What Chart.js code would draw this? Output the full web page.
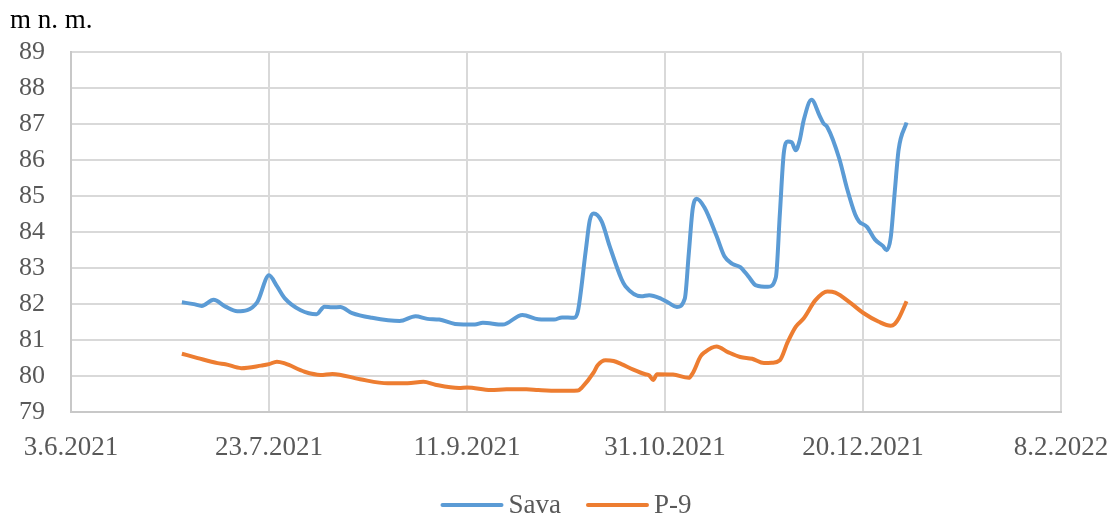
<!DOCTYPE html>
<html>
<head>
<meta charset="utf-8">
<script src="https://cdn.jsdelivr.net/npm/chart.js@4.4.0/dist/chart.umd.min.js"></script>
<style>
  html, body { margin: 0; padding: 0; background: #fff; }
  #wrap { width: 1111px; height: 517px; position: relative; }
</style>
</head>
<body>
<div id="wrap"><canvas id="chart"></canvas></div>
<script>
// x values are days counted from 3.6.2021 (first tick of the axis)
const tickLabels = ['3.6.2021', '23.7.2021', '11.9.2021', '31.10.2021', '20.12.2021', '8.2.2022'];
const seriesNames = ['Sava', 'P-9'];

const savaDays = [
  28, 31, 33, 36, 39, 42, 47, 50, 52, 54, 58, 62, 64, 66, 68, 71, 76, 83, 87, 90,
  93, 97, 102, 104, 109, 114, 118, 122, 124, 127, 128, 130, 131, 132, 134, 136, 139, 140, 144, 146,
  149, 151, 153, 155, 156, 157, 158, 160, 163, 165, 167, 169, 171, 173, 176, 178, 179, 180, 181, 182,
  183, 184, 185, 187, 189, 190, 191, 194, 196, 198, 199, 201, 203, 205, 206, 207, 208, 209, 211,
];
const savaLevels = [
  82.05, 82.0, 81.95, 82.12, 81.93, 81.8, 82.05, 82.8, 82.5, 82.16, 81.83, 81.72, 81.93, 81.91, 81.92, 81.75, 81.62, 81.53, 81.66, 81.59,
  81.57, 81.45, 81.43, 81.48, 81.43, 81.7, 81.58, 81.57, 81.63, 81.62, 81.8, 83.5, 84.33, 84.52, 84.3, 83.62, 82.7, 82.5, 82.22, 82.25,
  82.15, 82.03, 81.92, 82.15, 83.4, 84.65, 84.93, 84.68, 83.9, 83.33, 83.12, 83.03, 82.78, 82.52, 82.48, 82.75, 84.5, 86.2, 86.52, 86.5,
  86.28, 86.55, 87.1, 87.68, 87.25, 87.03, 86.92, 86.05, 85.2, 84.5, 84.3, 84.15, 83.8, 83.62, 83.5, 83.85, 85.1, 86.3, 87.05,
];

const p9Days = [
  28, 32, 37, 39, 43, 48, 50, 52, 54, 59, 63, 66, 73, 80, 85, 89, 92, 98, 100, 106,
  110, 115, 118, 123, 128, 129, 132, 133, 135, 137, 139, 142, 145, 146, 147, 148, 152, 156, 157, 159,
  160, 163, 166, 169, 172, 175, 177, 179, 181, 183, 185, 188, 191, 193, 197, 200, 204, 207, 208, 209, 211,
];
const p9Levels = [
  80.62, 80.5, 80.36, 80.33, 80.22, 80.29, 80.33, 80.4, 80.35, 80.12, 80.03, 80.06, 79.91, 79.8, 79.8, 79.84, 79.76, 79.67, 79.68, 79.61,
  79.63, 79.63, 79.61, 79.59, 79.6, 79.68, 80.1, 80.3, 80.44, 80.42, 80.33, 80.18, 80.05, 80.02, 79.89, 80.05, 80.04, 79.95, 80.08, 80.55,
  80.66, 80.82, 80.66, 80.53, 80.48, 80.36, 80.37, 80.44, 80.95, 81.37, 81.6, 82.11, 82.35, 82.32, 82.02, 81.76, 81.51, 81.4, 81.45, 81.6, 82.08,
];

const FONT = "'Liberation Serif', 'Times New Roman', serif";
const COLORS = ['#5B9BD5', '#ED7D31'];

/** Pairs an x list with a y list into Chart.js points. */
function toPoints(xs, ys) {
  return xs.map((x, i) => ({ x, y: ys[i] }));
}

/** Builds the two line datasets. */
function buildDatasets() {
  const series = [toPoints(savaDays, savaLevels), toPoints(p9Days, p9Levels)];
  return series.map((data, i) => ({
    label: seriesNames[i],
    data,
    borderColor: COLORS[i],
    backgroundColor: COLORS[i],
    borderWidth: 4,
    pointRadius: 0,
    cubicInterpolationMode: 'monotone',
    fill: false,
  }));
}

/**
 * Excel-like legend under the plot: long line swatch, tight gap before the text.
 * Drawn by hand because the built-in legend ties spacing to the font size.
 */
const bottomLegend = {
  id: 'bottomLegend',
  afterDraw(chart) {
    const { ctx, chartArea } = chart;
    const lineLen = 63, gap = 5, itemGap = 25, y = 505;
    ctx.save();
    ctx.font = `27px ${FONT}`;
    const widths = chart.data.datasets.map((ds) => lineLen + gap + ctx.measureText(ds.label).width);
    const total = widths.reduce((a, b) => a + b, 0) + itemGap * (widths.length - 1);
    let x = (chartArea.left + chartArea.right) / 2 - total / 2;
    chart.data.datasets.forEach((ds, i) => {
      ctx.strokeStyle = ds.borderColor;
      ctx.lineWidth = 4;
      ctx.lineCap = 'round';
      ctx.beginPath();
      ctx.moveTo(x + 2, y);
      ctx.lineTo(x + lineLen - 2, y);
      ctx.stroke();
      ctx.fillStyle = '#595959';
      ctx.textBaseline = 'middle';
      ctx.fillText(ds.label, x + lineLen + gap, y + 1);
      x += widths[i] + itemGap;
    });
    ctx.restore();
  },
};

const ctx = document.getElementById('chart').getContext('2d');

/* global Chart */
new Chart(ctx, {
  type: 'line',
  data: { datasets: buildDatasets() },
  plugins: [bottomLegend],
  options: {
    responsive: true,
    maintainAspectRatio: false,
    animation: false,
    layout: { padding: { left: 10, right: 50, top: 2, bottom: 60 } },
    plugins: {
      title: {
        display: true,
        text: 'm n. m.',
        align: 'start',
        color: '#000',
        font: { family: FONT, size: 27, weight: 'normal' },
        padding: { top: 3, bottom: 15 },
      },
      legend: { display: false },
      tooltip: { enabled: false },
    },
    scales: {
      x: {
        type: 'linear',
        min: 0,
        max: 250,
        ticks: {
          stepSize: 50,
          color: '#595959',
          padding: 20,
          maxRotation: 0,
          font: { family: FONT, size: 27 },
          callback: (value) => tickLabels[Math.round(value / 50)] ?? '',
        },
        grid: { color: '#D9D9D9', lineWidth: 2, drawTicks: false },
        border: { color: '#C8C8C8', width: 2 },
        afterFit: (scale) => {
          scale.height = 45;
          scale.paddingLeft = 0;
          scale.paddingRight = 0;
        },
      },
      y: {
        min: 79,
        max: 89,
        ticks: {
          stepSize: 1,
          color: '#595959',
          padding: 26,
          font: { family: FONT, size: 26 },
        },
        grid: { color: '#D9D9D9', lineWidth: 2, drawTicks: false },
        border: { color: '#C8C8C8', width: 2 },
        afterFit: (scale) => { scale.width = 61; },
      },
    },
  },
});
</script>
</body>
</html>
